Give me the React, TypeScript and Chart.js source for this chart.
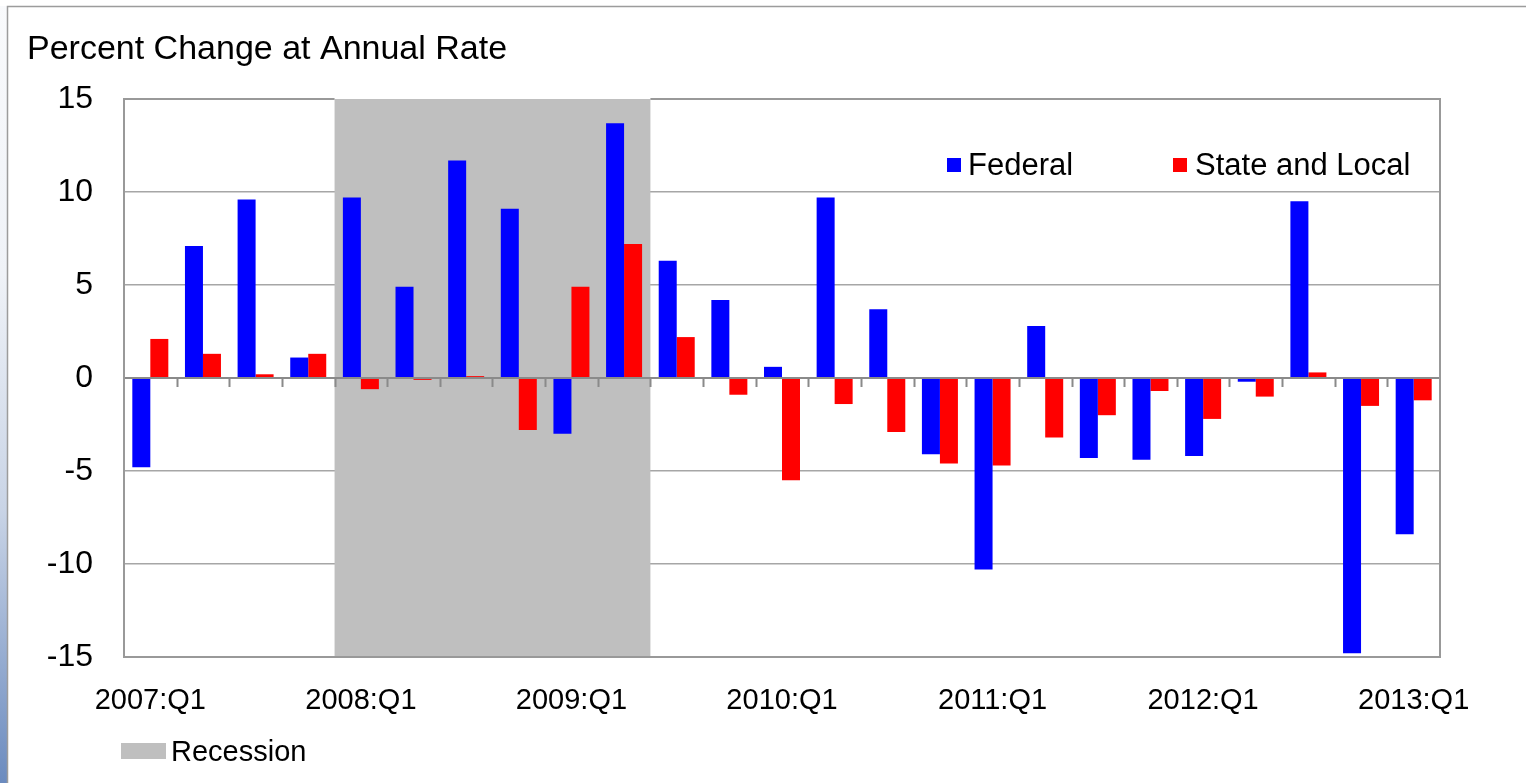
import React, { useEffect, useRef } from "react";
import { Chart, registerables } from "chart.js";

Chart.register(...registerables);

const categories = [
  "2007:Q1", "2007:Q2", "2007:Q3", "2007:Q4",
  "2008:Q1", "2008:Q2", "2008:Q3", "2008:Q4",
  "2009:Q1", "2009:Q2", "2009:Q3", "2009:Q4",
  "2010:Q1", "2010:Q2", "2010:Q3", "2010:Q4",
  "2011:Q1", "2011:Q2", "2011:Q3", "2011:Q4",
  "2012:Q1", "2012:Q2", "2012:Q3", "2012:Q4",
  "2013:Q1",
];

const federal = [
  -4.8, 7.1, 9.6, 1.1,
  9.7, 4.9, 11.7, 9.1,
  -3.0, 13.7, 6.3, 4.2,
  0.6, 9.7, 3.7, -4.1,
  -10.3, 2.8, -4.3, -4.4,
  -4.2, -0.2, 9.5, -14.8,
  -8.4,
];

const stateLocal = [
  2.1, 1.3, 0.2, 1.3,
  -0.6, -0.1, 0.1, -2.8,
  4.9, 7.2, 2.2, -0.9,
  -5.5, -1.4, -2.9, -4.6,
  -4.7, -3.2, -2.0, -0.7,
  -2.2, -1.0, 0.3, -1.5,
  -1.2,
];

const tickLabels = ["2007:Q1", "2008:Q1", "2009:Q1", "2010:Q1", "2011:Q1", "2012:Q1", "2013:Q1"];
const recessionStart = "2008:Q1";
const recessionEnd = "2009:Q2";
const recessionLabel = "Recession";
const titleText = "Percent Change at Annual Rate";

const FONT = "'Liberation Sans', Arial, Helvetica, sans-serif";
const SHADE = "#bfbfbf";

const decorPlugin = {
  id: "decor",
  beforeDraw(chart: any) {
    const ctx = chart.ctx;
    const H = chart.height;
    const W = chart.width;
    ctx.save();
    ctx.fillStyle = "#ffffff";
    ctx.fillRect(0, 0, W, H);
    const g = ctx.createLinearGradient(0, 0, 0, H);
    g.addColorStop(0, "#f9fafc");
    g.addColorStop(0.35, "#eff2f7");
    g.addColorStop(0.65, "#c9d4e6");
    g.addColorStop(1, "#6b8bbf");
    ctx.fillStyle = g;
    ctx.fillRect(0, 6, 7, H - 6);
    ctx.strokeStyle = "#9c9c9c";
    ctx.lineWidth = 1.5;
    ctx.beginPath();
    ctx.moveTo(W, 6.5);
    ctx.lineTo(7.5, 6.5);
    ctx.lineTo(7.5, H);
    ctx.stroke();
    ctx.restore();
  },
  beforeDatasetsDraw(chart: any) {
    const { ctx, chartArea, scales } = chart;
    const x = scales.x;
    const i0 = categories.indexOf(recessionStart);
    const i1 = categories.indexOf(recessionEnd);
    const half = (x.getPixelForValue(1) - x.getPixelForValue(0)) / 2;
    const left = x.getPixelForValue(i0) - half;
    const right = x.getPixelForValue(i1) + half;
    ctx.save();
    ctx.fillStyle = SHADE;
    ctx.fillRect(left, chartArea.top, right - left, chartArea.bottom - chartArea.top);
    ctx.restore();
  },
  afterDatasetsDraw(chart: any) {
    const { ctx, chartArea, scales } = chart;
    const x = scales.x;
    const y = scales.y;
    const y0 = y.getPixelForValue(0);
    const half = (x.getPixelForValue(1) - x.getPixelForValue(0)) / 2;
    const i0 = categories.indexOf(recessionStart);
    const i1 = categories.indexOf(recessionEnd);
    const sl = x.getPixelForValue(i0) - half;
    const sr = x.getPixelForValue(i1) + half;
    ctx.save();
    ctx.strokeStyle = "#8a8a8a";
    ctx.lineWidth = 2;
    ctx.beginPath();
    ctx.moveTo(chartArea.left, y0);
    ctx.lineTo(chartArea.right, y0);
    for (let i = 1; i < categories.length; i++) {
      const px = Math.round(x.getPixelForValue(i) - half) + 0.5;
      ctx.moveTo(px, y0);
      ctx.lineTo(px, y0 + 9);
    }
    ctx.stroke();
    ctx.strokeStyle = "#999999";
    ctx.lineWidth = 2;
    ctx.beginPath();
    ctx.moveTo(sl, chartArea.top);
    ctx.lineTo(chartArea.left, chartArea.top);
    ctx.lineTo(chartArea.left, chartArea.bottom);
    ctx.lineTo(chartArea.right, chartArea.bottom);
    ctx.lineTo(chartArea.right, chartArea.top);
    ctx.lineTo(sr, chartArea.top);
    ctx.stroke();
    ctx.restore();
  },
  afterDraw(chart: any) {
    const ctx = chart.ctx;
    ctx.save();
    ctx.textBaseline = "middle";
    ctx.textAlign = "left";
    ctx.font = `31px ${FONT}`;
    const ds = chart.data.datasets;
    const legendPos = [
      { box: 947, text: 968 },
      { box: 1173, text: 1195 },
    ];
    ds.forEach((d: any, i: number) => {
      ctx.fillStyle = d.backgroundColor;
      ctx.fillRect(legendPos[i].box, 158, 14, 14);
      ctx.fillStyle = "#000000";
      ctx.fillText(d.label, legendPos[i].text, 166);
    });
    ctx.font = `29px ${FONT}`;
    ctx.fillStyle = SHADE;
    ctx.fillRect(121, 743, 45, 16);
    ctx.fillStyle = "#000000";
    ctx.fillText(recessionLabel, 171, 753);
    ctx.restore();
  },
};

export default function App() {
  const ref = useRef<HTMLCanvasElement | null>(null);
  useEffect(() => {
    if (!ref.current) return;
    const chart = new Chart(ref.current, {
      type: "bar",
      data: {
        labels: categories,
        datasets: [
          {
            label: "Federal",
            data: federal,
            backgroundColor: "#0000ff",
            categoryPercentage: 0.684,
            barPercentage: 1.0,
          },
          {
            label: "State and Local",
            data: stateLocal,
            backgroundColor: "#ff0000",
            categoryPercentage: 0.684,
            barPercentage: 1.0,
          },
        ],
      },
      options: {
        responsive: false,
        animation: false,
        layout: { padding: { left: 27, right: 86, top: 0, bottom: 0 } },
        plugins: {
          legend: { display: false },
          tooltip: { enabled: false },
          title: {
            display: true,
            text: titleText,
            align: "start",
            color: "#000000",
            font: { family: FONT, size: 34, weight: "normal", lineHeight: 1.2 },
            padding: { top: 29, bottom: 29.2 },
          },
        },
        scales: {
          x: {
            grid: { display: false },
            border: { display: false },
            afterFit: (s: any) => {
              s.height = 126;
            },
            ticks: {
              autoSkip: false,
              maxRotation: 0,
              minRotation: 0,
              padding: 19,
              color: "#000000",
              font: { family: FONT, size: 29 },
              callback: (_v: any, i: number) =>
                tickLabels.includes(categories[i]) ? categories[i] : "",
            },
          },
          y: {
            min: -15,
            max: 15,
            afterFit: (s: any) => {
              s.width = 97;
            },
            border: { display: false },
            grid: {
              drawTicks: false,
              lineWidth: 1.5,
              color: (c: any) =>
                c.tick && (c.tick.value === 0 || Math.abs(c.tick.value) === 15)
                  ? "rgba(0,0,0,0)"
                  : "#a6a6a6",
            },
            ticks: {
              stepSize: 5,
              padding: 31,
              color: "#000000",
              font: { family: FONT, size: 32 },
            },
          },
        },
      },
      plugins: [decorPlugin],
    });
    return () => chart.destroy();
  }, []);
  return (
    <canvas
      ref={ref}
      width={1526}
      height={783}
      style={{ position: "fixed", left: 0, top: 0, display: "block" }}
    />
  );
}
